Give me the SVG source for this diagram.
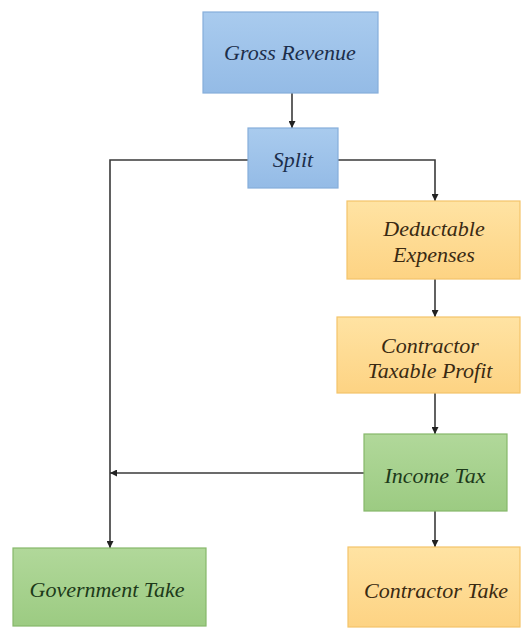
<svg xmlns="http://www.w3.org/2000/svg" width="522" height="628" viewBox="0 0 522 628">
<style>
text{font-family:'Liberation Serif','DejaVu Serif',serif;font-style:italic;font-size:22px;text-anchor:middle}
.blue rect{fill:url(#gb);stroke:#86aedb;stroke-width:1.2}
.blue text{fill:#1c2e4a}
.orange rect{fill:url(#go);stroke:#f3c46a;stroke-width:1.2}
.orange text{fill:#3a2a12}
.green rect{fill:url(#gg);stroke:#86b86a;stroke-width:1.2}
.green text{fill:#1d3a1a}
.c path{fill:none;stroke:#3a3a3a;stroke-width:1.6}
</style>
<defs>
<linearGradient id="gb" x1="0" y1="0" x2="0" y2="1"><stop offset="0" stop-color="#a9cbee"/><stop offset="1" stop-color="#94bbe6"/></linearGradient>
<linearGradient id="go" x1="0" y1="0" x2="0" y2="1"><stop offset="0" stop-color="#ffe3a3"/><stop offset="1" stop-color="#fdd383"/></linearGradient>
<linearGradient id="gg" x1="0" y1="0" x2="0" y2="1"><stop offset="0" stop-color="#b1d89a"/><stop offset="1" stop-color="#9ccb82"/></linearGradient>
<marker id="ah" viewBox="0 0 10 10" refX="10" refY="5" markerWidth="7" markerHeight="7" markerUnits="userSpaceOnUse" orient="auto"><path d="M0,0L10,5L0,10z" fill="#222"/></marker>
</defs>
<g class="c" id="connectors">
<path d="M292,93V128" marker-end="url(#ah)"/>
<path d="M248,160H110V548" marker-end="url(#ah)"/>
<path d="M338,160H435V201" marker-end="url(#ah)"/>
<path d="M435,279V317" marker-end="url(#ah)"/>
<path d="M435,393V434" marker-end="url(#ah)"/>
<path d="M364,473H110" marker-end="url(#ah)"/>
<path d="M435,511V547" marker-end="url(#ah)"/>
</g>
<g id="gross-revenue" class="blue"><rect x="203" y="12" width="175" height="81"/><text x="290" y="60" font-family="Liberation Serif" font-style="italic">Gross Revenue</text></g>
<g id="split" class="blue"><rect x="248" y="128" width="90" height="60"/><text x="293" y="167" font-family="Liberation Serif" font-style="italic">Split</text></g>
<g id="deductable-expenses" class="orange"><rect x="347" y="201" width="173" height="78"/><text x="434" y="236" font-family="Liberation Serif" font-style="italic">Deductable</text><text x="434" y="262" font-family="Liberation Serif" font-style="italic">Expenses</text></g>
<g id="contractor-taxable-profit" class="orange"><rect x="337" y="317" width="183" height="76"/><text x="430" y="353" font-family="Liberation Serif" font-style="italic">Contractor</text><text x="430" y="378" font-family="Liberation Serif" font-style="italic">Taxable Profit</text></g>
<g id="income-tax" class="green"><rect x="364" y="434" width="143" height="77"/><text x="435" y="483" font-family="Liberation Serif" font-style="italic">Income Tax</text></g>
<g id="government-take" class="green"><rect x="13" y="548" width="193" height="78"/><text x="107" y="597" font-family="Liberation Serif" font-style="italic">Government Take</text></g>
<g id="contractor-take" class="orange"><rect x="348" y="547" width="172" height="80"/><text x="436" y="598" font-family="Liberation Serif" font-style="italic">Contractor Take</text></g>
</svg>
